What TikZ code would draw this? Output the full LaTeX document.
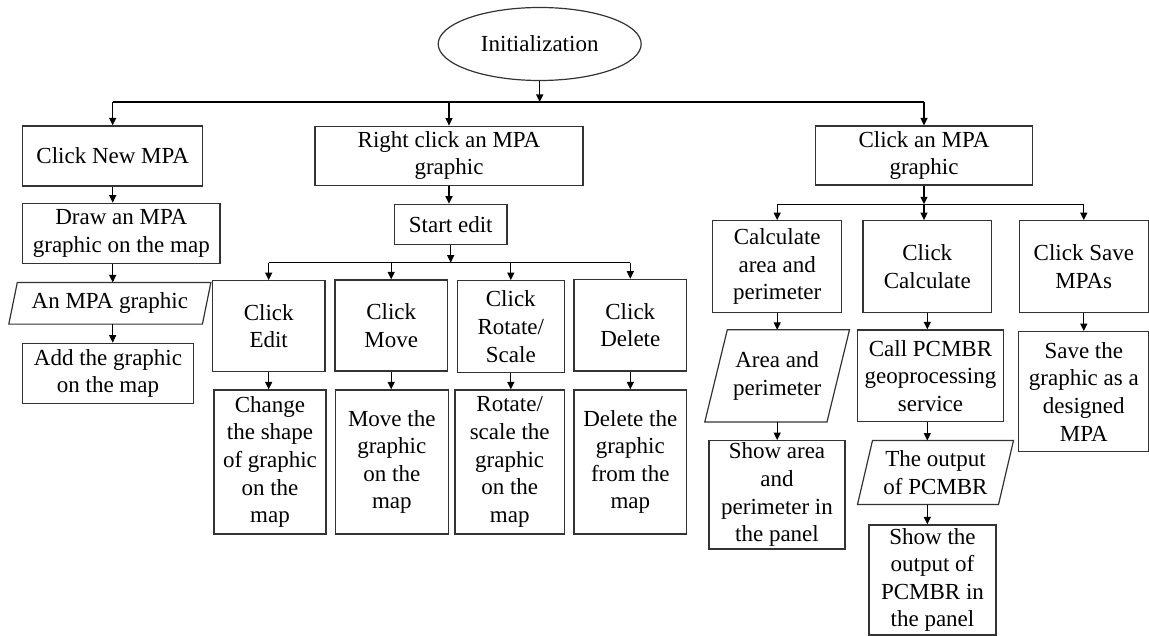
\documentclass[tikz,border=0pt]{standalone}
\usepackage{fontspec}
\setmainfont{Liberation Serif}
\usetikzlibrary{arrows.meta,calc,shapes.geometric}
\begin{document}
\begin{tikzpicture}[x=1pt,y=-1pt,
  every node/.style={font=\fontsize{23}{27.6}\selectfont, align=center, inner sep=0pt},
  box/.style={draw=black!80, line width=1.2pt, rectangle},
  oval/.style={draw=black!80, line width=1.2pt, ellipse},
  iobox/.style={rectangle},
  ioline/.style={draw=black!80, line width=1.2pt, line join=miter},
  link/.style={draw=black, line width=1.2pt},
  arr/.style={link, -{Triangle[length=7.5pt,width=7pt]}}
]
\useasboundingbox (0,0) rectangle (1149,636);

% start
\node[oval, minimum width=203, minimum height=73] (init) at (539.7,44) {Initialization};

% first level
\node[box, minimum width=180, minimum height=60] (new) at (112.7,156) {Click New MPA};
\node[box, minimum width=268, minimum height=59] (rclick) at (449,155.7) {Right click an MPA\\graphic};
\node[box, minimum width=216.6, minimum height=59] (cmpa) at (924,155.5) {Click an MPA\\graphic};

% left column
\node[box, minimum width=197.3, minimum height=60] (drawg) at (121.3,233.3) {Draw an MPA\\graphic on the map};
\node[iobox, minimum width=201.7, minimum height=41.3] (io1) at (109.85,303.3) {An MPA graphic};
\node[box, minimum width=170.6, minimum height=60] (addg) at (108,373.3) {Add the graphic\\on the map};

% middle column
\node[box, minimum width=112.7, minimum height=40] (start) at (450.7,224.3) {Start edit};
\node[box, minimum width=112.7, minimum height=91] (edit) at (268.7,326.2) {Click\\Edit};
\node[box, minimum width=112.3, minimum height=91] (move) at (391.2,325.5) {Click\\Move};
\node[box, minimum width=107, minimum height=92] (rot) at (510.8,326.7) {Click\\Rotate/\\Scale};
\node[box, minimum width=112.7, minimum height=91.7] (del) at (630.3,325.2) {Click\\Delete};
\node[box, minimum width=112, minimum height=144] (chg) at (270,462) {Change\\the shape\\of graphic\\on the\\map};
\node[box, minimum width=113, minimum height=144] (mvg) at (391.8,462) {Move the\\graphic\\on the\\map};
\node[box, minimum width=109.3, minimum height=144] (rotg) at (509.7,462) {Rotate/\\scale the\\graphic\\on the\\map};
\node[box, minimum width=112.7, minimum height=144] (delg) at (630.3,462) {Delete the\\graphic\\from the\\map};

% right columns
\node[box, minimum width=129, minimum height=92] (area) at (777.2,266.7) {Calculate\\area and\\perimeter};
\node[box, minimum width=128.7, minimum height=91.6] (calc) at (927.3,266.5) {Click\\Calculate};
\node[box, minimum width=129, minimum height=92] (save) at (1083.8,266.7) {Click Save\\MPAs};
\node[iobox, minimum width=144.3, minimum height=91.7] (io2) at (777.15,375.85) {Area and\\perimeter};
\node[box, minimum width=136, minimum height=108.3] (showa) at (777,494.8) {Show area\\and\\perimeter in\\the panel};
\node[box, minimum width=145.6, minimum height=91.7] (call) at (930.5,375.8) {Call PCMBR\\geoprocessing\\service};
\node[iobox, minimum width=155.6, minimum height=63.6] (io3) at (935.5,472.5) {The output\\of PCMBR};
\node[box, minimum width=127, minimum height=110] (showo) at (932.5,580) {Show the\\output of\\PCMBR in\\the panel};
\node[box, minimum width=130.3, minimum height=120] (saveg) at (1083.8,391.7) {Save the\\graphic as a\\designed\\MPA};

% data (parallelogram) outlines
\draw[ioline] (io1.south west) -- ($(io1.south east)+(-8.5,0)$) -- (io1.north east) -- ($(io1.north west)+(8.5,0)$) -- cycle;
\draw[ioline] (io2.south west) -- ($(io2.south east)+(-22.5,0)$) -- (io2.north east) -- ($(io2.north west)+(22.5,0)$) -- cycle;
\draw[ioline] (io3.south west) -- ($(io3.south east)+(-15,0)$) -- (io3.north east) -- ($(io3.north west)+(15,0)$) -- cycle;

% branching buses
\coordinate (bus1) at (539.7,102);
\coordinate (bus2) at (450.7,262.7);
\coordinate (bus3) at (924,204.3);

\draw[arr] (init) -- (bus1);
\draw[link] (new.north |- bus1) -- (cmpa.north |- bus1);
\draw[arr] (new.north |- bus1) -- (new.north);
\draw[arr] (rclick.north |- bus1) -- (rclick.north);
\draw[arr] (cmpa.north |- bus1) -- (cmpa.north);

% left column flow
\draw[arr] (new.south) -- (new.south |- drawg.north);
\draw[arr] (new.south |- drawg.south) -- (new.south |- io1.north);
\draw[arr] (new.south |- io1.south) -- (new.south |- addg.north);

% edit branch
\draw[arr] (rclick.south) -- (rclick.south |- start.north);
\draw[arr] (start) -- (bus2);
\draw[link] (edit.north |- bus2) -- (del.north |- bus2);
\foreach \n in {edit,move,rot,del}
  \draw[arr] (\n.north |- bus2) -- (\n.north);
\draw[arr] (edit.south) -- (edit.south |- chg.north);
\draw[arr] (move.south) -- (move.south |- mvg.north);
\draw[arr] (rot.south) -- (rot.south |- rotg.north);
\draw[arr] (del.south) -- (del.south |- delg.north);

% calculation branch
\draw[arr] (cmpa) -- (bus3);
\draw[link] (area.north |- bus3) -- (save.north |- bus3);
\draw[arr] (area.north |- bus3) -- (area.north);
\draw[arr] (bus3) -- (bus3 |- calc.north);
\draw[arr] (save.north |- bus3) -- (save.north);
\draw[arr] (area.south) -- (area.south |- io2.north);
\draw[arr] (area.south |- io2.south) -- (area.south |- showa.north);
\draw[arr] (calc.south) -- (calc.south |- call.north);
\draw[arr] (calc.south |- call.south) -- (calc.south |- io3.north);
\draw[arr] (calc.south |- io3.south) -- (calc.south |- showo.north);
\draw[arr] (save.south) -- (save.south |- saveg.north);
\end{tikzpicture}
\end{document}
